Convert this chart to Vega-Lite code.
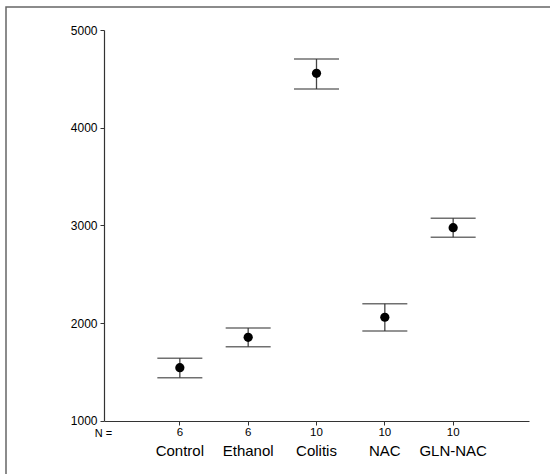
{
  "$schema": "https://vega.github.io/schema/vega-lite/v6.json",
  "width": 548,
  "height": 470,
  "autosize": {"type": "none"},
  "padding": {"left": 6, "top": 7, "right": 0, "bottom": 0},
  "background": "white",
  "config": {
    "font": "Liberation Sans",
    "view": {"stroke": "#666", "strokeWidth": 1.5}
  },
  "data": {
    "values": [
      {"group": "Control", "n": "6", "mean": 1543, "lo": 1440, "hi": 1639},
      {"group": "Ethanol", "n": "6", "mean": 1854, "lo": 1758, "hi": 1949},
      {"group": "Colitis", "n": "10", "mean": 4557, "lo": 4396, "hi": 4703},
      {"group": "NAC", "n": "10", "mean": 2059, "lo": 1918, "hi": 2198},
      {"group": "GLN-NAC", "n": "10", "mean": 2976, "lo": 2878, "hi": 3072}
    ]
  },
  "encoding": {
    "x": {
      "field": "group",
      "type": "nominal",
      "sort": null,
      "scale": {"type": "band", "range": [98, 523], "paddingInner": 0, "paddingOuter": 0.61},
      "axis": {
        "orient": "bottom",
        "offset": -56,
        "labelAngle": 0,
        "labelFontSize": 15,
        "labelColor": "#000",
        "labelPadding": 18.5,
        "tickSize": 4,
        "tickColor": "#333",
        "domainColor": "#333",
        "domainWidth": 1.2,
        "bandPosition": 0.5,
        "title": "N =",
        "titleFontSize": 11,
        "titleFontWeight": "normal",
        "titleColor": "#000",
        "titleX": 97,
        "titleY": 12,
        "titleAlign": "center",
        "titleBaseline": "middle"
      }
    }
  },
  "layer": [
    {
      "mark": {"type": "rule", "color": "#444", "strokeWidth": 1.3},
      "encoding": {
        "y": {
          "field": "lo",
          "type": "quantitative",
          "scale": {"domain": [1000, 5000], "range": [413.7, 23], "nice": false, "zero": false},
          "axis": {
            "values": [1000, 2000, 3000, 4000, 5000],
            "format": "d",
            "offset": -98,
            "title": null,
            "grid": false,
            "tickSize": 4,
            "tickColor": "#333",
            "domainColor": "#333",
            "domainWidth": 1.2,
            "labelPadding": 3,
            "labelFontSize": 12,
            "labelColor": "#000",
            "labelFlush": false,
            "labelOverlap": false
          }
        },
        "y2": {"field": "hi"}
      }
    },
    {
      "mark": {"type": "tick", "color": "#333", "thickness": 1.5, "size": 45, "orient": "horizontal"},
      "encoding": {
        "y": {"field": "hi", "type": "quantitative", "scale": {"domain": [1000, 5000], "range": [413.7, 23], "nice": false, "zero": false}}
      }
    },
    {
      "mark": {"type": "tick", "color": "#333", "thickness": 1.5, "size": 45, "orient": "horizontal"},
      "encoding": {
        "y": {"field": "lo", "type": "quantitative", "scale": {"domain": [1000, 5000], "range": [413.7, 23], "nice": false, "zero": false}}
      }
    },
    {
      "mark": {"type": "point", "filled": true, "color": "#000", "opacity": 1, "size": 85},
      "encoding": {
        "y": {"field": "mean", "type": "quantitative", "scale": {"domain": [1000, 5000], "range": [413.7, 23], "nice": false, "zero": false}}
      }
    },
    {
      "mark": {"type": "text", "dy": 12.5, "fontSize": 11.5, "baseline": "middle", "color": "#000"},
      "encoding": {
        "y": {"datum": 1000, "type": "quantitative", "scale": {"domain": [1000, 5000], "range": [413.7, 23], "nice": false, "zero": false}},
        "text": {"field": "n"}
      }
    }
  ]
}
